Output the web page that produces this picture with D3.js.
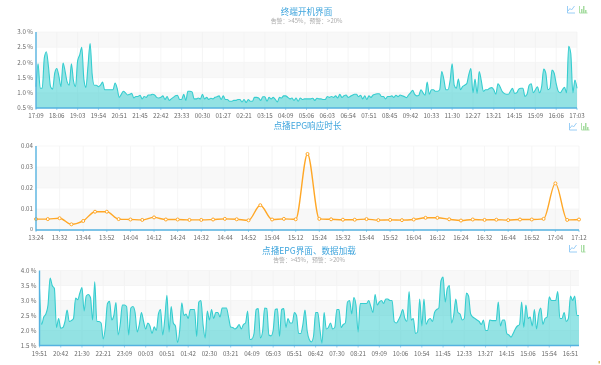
<!DOCTYPE html>
<html><head><meta charset="utf-8">
<script src="https://cdn.jsdelivr.net/npm/d3@7/dist/d3.min.js"></script>
<style>html,body{margin:0;padding:0;background:#fff}svg{display:block;filter:blur(0.3px)}text{font-family:"Noto Sans CJK SC","Open Sans",sans-serif}</style>
</head><body><svg id="c" width="601" height="365"></svg>
<script>
const labels1=["17:09","18:06","19:03","19:54","20:51","21:45","22:42","23:33","00:30","01:27","02:21","03:15","04:09","05:06","06:03","06:54","07:51","08:45","09:42","10:33","11:30","12:27","13:21","14:15","15:09","16:06","17:03"];
const values1=[1.2,1.95,1.15,1.15,2.15,2.35,1.85,1.2,1.12,1.65,
1.8,1.55,1.2,1.98,1.7,1.35,1.25,1.95,1.4,1.2,
2.05,2.25,2.5,1.45,1.18,1.9,2.62,1.6,1.25,1.25,
1.2,1.25,1.35,1.1,1.1,1.1,1.1,1.1,1.32,1.15,
.85,.95,1.05,1.0,.93,.95,.98,.83,.88,.88,
.92,.8,.88,.85,.93,.93,.95,.93,.85,.83,
.85,.9,.78,.88,.75,.8,.85,.9,.92,.78,
.78,.95,.75,1.05,1.05,1.03,.8,.8,.83,.8,
.95,.8,.85,.78,.82,.8,.85,.87,.9,.78,
.9,.78,.78,.72,.72,.75,.75,.78,.78,.7,
.78,.68,.78,.72,.72,.85,.85,.83,.75,.87,
.87,.72,.85,.8,.85,.78,.7,.85,.83,.9,
.9,.85,.8,.83,.75,.83,.72,.83,.78,.8,
.8,.8,.8,.82,.75,.82,.8,.8,.78,.78,
.88,.85,.88,.85,.9,.83,.95,.85,.9,.93,
.85,.88,.92,.95,.95,.87,.92,.8,.9,.78,
.9,.85,.93,.95,.97,.97,.88,.88,.8,.88,
.88,.9,.85,.92,.87,.93,.9,.88,.84,.92,
1.0,1.08,.95,.9,.92,1.1,1.0,.92,1.35,.95,
1.1,1.1,1.05,1.05,1.1,1.7,1.45,1.1,1.1,1.4,
1.95,1.25,1.15,1.45,1.1,1.2,1.25,1.3,1.6,1.8,
1.0,1.45,.98,1.7,1.4,1.05,1.1,1.1,1.15,1.17,
1.1,.95,1.3,1.2,1.05,.98,.95,.95,1.05,1.15,
.98,1.0,1.12,1.15,1.15,.88,.95,1.25,1.3,1.0,
1.1,1.2,1.0,1.2,1.78,1.65,1.1,1.15,1.75,1.65,
1.3,1.05,1.0,1.1,1.18,1.0,2.53,2.3,1.0,1.42,1.15];
const labels2=["13:24","13:32","13:44","13:52","14:04","14:12","14:24","14:32","14:44","14:52","15:04","15:12","15:24","15:32","15:44","15:52","16:04","16:12","16:24","16:32","16:44","16:52","17:04","17:12"];
const values2=[.0052,.0052,.0056,.0027,.0043,.0087,.0087,.0052,.0050,.0048,.0060,.0050,.0050,.0048,.0048,.0050,.0053,.0051,.0046,.0118,.0050,.0053,.0051,.0362,.0053,.0051,.0049,.0049,.0052,.0047,.0048,.0047,.0050,.0058,.0058,.0051,.0045,.0050,.0048,.0049,.0047,.0050,.0050,.0053,.0222,.0048,.0050];
const labels3=["19:51","20:42","21:30","22:21","23:09","00:03","00:51","01:42","02:30","03:21","04:09","05:03","05:51","06:42","07:30","08:21","09:09","10:06","10:54","11:45","12:33","13:27","14:15","15:06","15:54","16:51"];
const values3=[3.4,2.2,2.45,2.55,2.85,3.75,3.5,3.4,2.1,2.4,
2.08,2.1,2.3,2.68,2.3,2.33,2.4,3.08,3.03,3.25,
3.43,2.65,3.15,3.2,3.1,2.35,3.62,2.3,2.3,2.25,
1.72,2.1,2.9,2.97,2.35,2.5,2.93,1.85,2.2,2.85,
2.85,2.8,1.85,2.75,2.8,2.6,1.95,2.2,2.6,2.3,
2.05,2.25,2.15,1.9,2.12,2.0,2.55,2.7,1.85,2.4,
3.17,1.95,2.8,2.25,2.15,1.6,2.0,2.92,2.5,2.55,
2.4,2.7,2.7,2.7,1.8,2.95,3.0,2.2,1.75,2.65,
2.35,2.7,2.4,2.6,2.6,2.45,2.75,2.75,2.75,2.45,
2.12,2.1,2.05,2.1,2.2,2.05,2.2,2.25,2.65,1.7,
1.72,1.9,2.7,2.73,1.75,1.95,2.75,2.73,1.85,1.82,
2.0,2.7,2.72,1.8,2.7,2.73,2.1,2.4,2.25,2.25,
2.6,2.5,1.9,1.9,2.2,2.68,2.0,1.7,1.62,1.8,
2.6,2.6,2.05,1.58,2.6,2.05,2.1,2.25,2.05,2.1,
2.7,2.7,2.1,2.2,2.25,2.95,3.0,2.55,3.1,2.85,
1.95,2.9,2.9,2.9,2.9,3.0,2.8,2.6,3.2,2.85,
2.95,3.0,2.9,3.05,3.05,3.0,3.0,2.3,2.25,2.35,
2.5,2.7,2.4,2.3,3.3,2.35,2.4,1.9,1.95,3.05,
2.15,3.05,2.2,2.35,2.4,2.3,2.6,2.7,2.75,3.65,
3.78,2.95,3.4,3.5,2.25,2.5,3.05,2.6,2.55,2.35,
2.4,3.25,3.15,2.55,2.45,2.4,2.35,2.3,2.2,2.35,
2.0,2.0,2.35,2.33,2.33,2.33,2.95,2.15,2.35,2.35,
1.9,1.85,1.78,1.9,2.05,2.15,2.2,2.95,2.1,2.85,
2.4,2.45,2.15,2.7,2.05,2.55,2.75,2.2,2.4,2.45,
3.12,3.0,3.0,3.0,3.3,2.4,2.4,2.6,2.3,2.4,
3.15,3.0,3.15,2.5,2.5];
const yTicks1=[0.5,1.0,1.5,2.0,2.5,3.0];
const yTicks2=[0,0.01,0.02,0.03,0.04];
const yTicks3=[1.5,2.0,2.5,3.0,3.5,4.0];
const titles=["终端开机界面","点播EPG响应时长","点播EPG界面、数据加载"];
const subtitle="告警：>45%，预警：>20%";

const svg=d3.select("#c");
const AXIS="#55b2e0",TITLE="#3fa5dd",TXT="#6a6a6a",TEAL="#36cdcf",ORANGE="#ffa726";

function panel(o){
  const g=svg.append("g");
  const y=d3.scaleLinear().domain(o.dom).range([o.b,o.t]);
  const x=d3.scaleLinear().domain([0,o.vals.length-1]).range([o.l,o.r]);
  o.yt.slice(0,-1).forEach((v,i)=>{ if(i%2==0) g.append("rect").attr("x",o.l).attr("width",o.r-o.l)
     .attr("y",y(o.yt[i+1])).attr("height",y(v)-y(o.yt[i+1])).attr("fill","#f8f8f8"); });
  o.labels.forEach((s,i)=>{ if(i==0)return; const X=x(i*o.step);
    g.append("line").attr("x1",X).attr("x2",X).attr("y1",o.t).attr("y2",o.b).attr("stroke","#f0f0f0").attr("stroke-width",.7);});
  o.yt.forEach(v=>g.append("line").attr("x1",o.l).attr("x2",o.r).attr("y1",y(v)).attr("y2",y(v)).attr("stroke","#f3f3f3").attr("stroke-width",.7));
  const cur=d3.curveMonotoneX;
  if(o.area){
    g.append("path").attr("d",d3.area().x((d,i)=>x(i)).y0(o.b).y1(d=>y(d)).curve(cur)(o.vals)).attr("fill",TEAL).attr("fill-opacity",.52);
  }
  g.append("path").attr("d",d3.line().x((d,i)=>x(i)).y(d=>y(d)).curve(cur)(o.vals)).attr("fill","none")
   .attr("stroke",o.area?TEAL:ORANGE).attr("stroke-width",o.area?1.1:1.4);
  if(!o.area) g.selectAll("circle.p").data(o.vals).enter().append("circle").attr("cx",(d,i)=>x(i)).attr("cy",d=>y(d)).attr("r",1.5).attr("fill","#fff").attr("stroke",ORANGE).attr("stroke-width",1);
  g.append("line").attr("x1",o.l).attr("x2",o.l).attr("y1",o.t).attr("y2",o.b+.7).attr("stroke",AXIS).attr("stroke-width",1.4);
  g.append("line").attr("x1",o.l).attr("x2",o.r).attr("y1",o.b).attr("y2",o.b).attr("stroke",AXIS).attr("stroke-width",1.4);
  o.labels.forEach((s,i)=>{ const X=x(i*o.step);
    g.append("line").attr("x1",X).attr("x2",X).attr("y1",o.b).attr("y2",o.b+2).attr("stroke",AXIS).attr("stroke-width",.6);
    g.append("text").attr("x",X).attr("y",o.b+o.xo).attr("text-anchor","middle").attr("font-size",6.2).attr("fill",TXT).text(s);
  });
  o.yt.forEach(v=>g.append("text").attr("x",o.l-3).attr("y",y(v)+(v===0?1.4:2.2)).attr("text-anchor","end").attr("font-size",v===0?5.6:6.2).attr("fill",TXT).text(o.fmt(v)));
  g.append("text").attr("x",o.cx).attr("y",o.ty).attr("text-anchor","middle").attr("font-size",8.6).attr("fill",TITLE).text(o.title);
  if(o.sub) g.append("text").attr("x",o.cx).attr("y",o.ty+8).attr("text-anchor","middle").attr("font-size",5.9).attr("fill","#aaa").text(o.sub);
  const ix=o.ix, iy=o.iy, gw=o.narrow?4:8;
  g.append("path").attr("d",`M${ix} ${iy}V${iy+7}H${ix+7.5}M${ix+.5} ${iy+5}L${ix+2.5} ${iy+2.5}L${ix+4} ${iy+4}L${ix+7} ${iy}`).attr("fill","none").attr("stroke","#8fc8f5").attr("stroke-width",.9);
  g.append("path").attr("d",`M${ix+12} ${iy}V${iy+7}H${ix+12+gw}`).attr("fill","none").attr("stroke","#a5dca0").attr("stroke-width",.9);
  (o.narrow?[[1.5,0]]:[[1.5,3],[3.5,0],[5.5,4]]).forEach(b=>g.append("rect").attr("x",ix+12+b[0]).attr("y",iy+b[1]).attr("width",1.5).attr("height",7-b[1]).attr("fill","#a5dca0"));
}
const f1=v=>v.toFixed(1)+" %";
panel({vals:values1,labels:labels1,step:10,yt:yTicks1,dom:[.5,3],fmt:f1,l:36,r:577,t:32,b:108,xo:9.5,area:true,title:titles[0],sub:subtitle,cx:306.5,ty:15,ix:567.5,iy:6});
panel({vals:values2,labels:labels2,step:2,yt:yTicks2,dom:[0,.04],fmt:v=>String(v),l:36,r:579,t:146,b:230,xo:9.5,area:false,title:titles[1],cx:307.5,ty:129.3,ix:569.5,iy:123});
panel({vals:values3,labels:labels3,step:10,yt:yTicks3,dom:[1.5,4],fmt:f1,l:39.5,r:579,t:270.5,b:345.5,xo:10,area:true,title:titles[2],sub:subtitle,cx:309,ty:254,ix:569.5,iy:245,narrow:true});
svg.append("rect").attr("x",598.5).attr("y",361).attr("width",1.5).attr("height",2.5).attr("fill","#d9c060");
</script></body></html>
